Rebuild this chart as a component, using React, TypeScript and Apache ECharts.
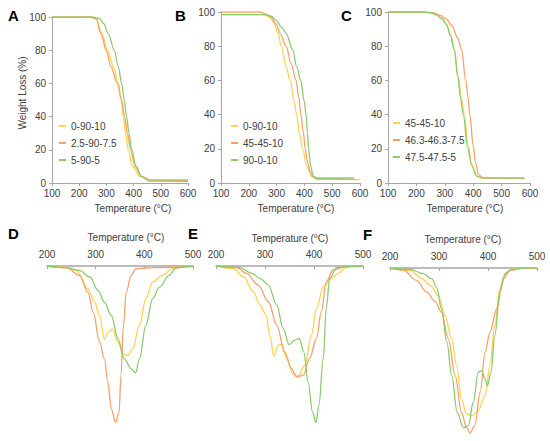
import React, { useEffect, useRef } from "react";
import * as echarts from "echarts";

// ---------- data ----------
const namesA = ["0-90-10", "2.5-90-7.5", "5-90-5"];
const namesB = ["0-90-10", "45-45-10", "90-0-10"];
const namesC = ["45-45-10", "46.3-46.3-7.5", "47.5-47.5-5"];

const tgaA0: number[][] = [[100,100],[240,100],[262,99],[283,90],[304,80],[326,70],[344,60],[354,50],[362,40],[371,30],[380,20],[396,10],[423,4],[460,1.6],[600,1.5]];
const tgaA1: number[][] = [[100,100],[240,100],[262,99],[280,90],[299,80],[317,70],[340,60],[356,50],[367,40],[377,30],[389,20],[405,10],[429,4],[460,1.9],[600,1.8]];
const tgaA2: number[][] = [[100,100],[250,100],[275,99],[290,96],[307,90],[329,80],[344,70],[356,60],[366,50],[374,40],[383,30],[393,20],[409,10],[429,4],[460,1.1],[600,1]];

const tgaB0: number[][] = [[100,98.5],[250,98.5],[270,97.5],[290,94],[305,87.5],[317,80],[334,68],[349,60],[363,48],[372,40],[382,29],[394,19.5],[409,9.6],[427,3.7],[445,2.3],[600,2]];
const tgaB1: number[][] = [[100,100],[240,100],[262,98.8],[280,97],[298,93],[313,87.5],[334,80],[352,70],[370,60],[380,50],[387,40],[396,30],[403,20],[410,13],[420,7],[430,4],[445,3],[580,3]];
const tgaB2: number[][] = [[100,98.5],[260,98.5],[280,97.6],[300,95],[318,91],[334,87.7],[358,77.8],[372,68],[387,60],[399,48],[406,40],[411,29],[415,20],[423,9.6],[432,3.7],[445,2.5],[580,2.3]];

const tgaC0: number[][] = [[100,100],[220,100],[250,99.5],[270,98.5],[290,96.5],[306,93],[320,87],[333,79],[348,62],[358,50],[369,40],[382,22],[395,11],[412,4],[430,3],[580,2.8]];
const tgaC1: number[][] = [[100,100],[230,100],[260,99.5],[285,98],[305,96],[325,92],[345,85],[359,78],[374,60],[382,50],[388,40],[400,22],[408,12],[418,5],[435,3],[580,2.6]];
const tgaC2: number[][] = [[100,100],[220,100],[250,99.5],[270,98.3],[290,96],[306,92.5],[320,86],[333,78],[346,62],[355,50],[365,40],[380,21],[395,10],[412,4],[430,3],[580,2.8]];

const dtgD0: number[][] = [[200,0],[230,-0.6],[260,-2.6],[284,-13.6],[298,-21.6],[308,-29.6],[318,-43.6],[325,-39.6],[335,-38],[346,-45.6],[356,-52.6],[366,-53.6],[376,-49.6],[390,-35.6],[403,-19.6],[417,-9.6],[437,-5.6],[458,-1.6],[485,-0.4],[500,0]];
const dtgD1: number[][] = [[200,0],[240,-1],[267,-5.6],[284,-15.6],[295,-27.6],[308,-45.6],[318,-55.6],[325,-69.6],[332,-85.6],[341,-93.6],[348,-87.6],[352,-65.6],[357,-35.6],[363,-15.6],[373,-5.6],[383,-1.6],[403,-1.2],[444,-0.8],[492,-0.4],[500,0]];
const dtgD2: number[][] = [[200,0],[240,-1],[267,-2.6],[288,-6.6],[305,-14.6],[318,-21.6],[332,-29.6],[346,-43.6],[359,-55.6],[373,-61.6],[382,-64],[390,-55.6],[403,-35.6],[417,-19.6],[431,-12.6],[451,-5.6],[465,-1.2],[485,-0.4],[500,0]];

const dtgE0: number[][] = [[200,0],[235,-1.4],[256,-6.4],[276,-15.4],[290,-23.4],[302,-29.4],[310,-41.4],[318,-54],[327,-47.4],[334,-47],[344,-55.4],[357,-64.4],[368,-65.8],[381,-59.4],[395,-41.4],[405,-25.4],[419,-12.4],[436,-7.4],[449,-4.4],[466,-0.8],[480,-0.2],[500,0]];
const dtgE1: number[][] = [[200,0],[242,-0.8],[262,-4.4],[286,-11.4],[307,-21.4],[324,-35.4],[340,-51.4],[354,-61.4],[364,-66.4],[378,-65.4],[391,-55.4],[405,-43.4],[415,-27.4],[425,-9.4],[439,-2.4],[466,-0.2],[500,0]];
const dtgE2: number[][] = [[200,0],[249,-1],[273,-4.4],[290,-7.4],[307,-11.4],[324,-23.4],[337,-37.4],[349,-47],[361,-44.4],[370,-43.4],[379,-51.4],[388,-69.4],[397,-87.4],[404,-93.8],[410,-83.4],[419,-55.4],[425,-25.4],[432,-7.4],[446,-1],[480,-0.2],[500,0]];

const dtgF0: number[][] = [[200,0],[241,-1.4],[265,-6.4],[282,-10.4],[299,-16.4],[312,-28.4],[326,-42.4],[336,-58.4],[346,-78.4],[356,-87.4],[367,-88.4],[380,-85.4],[394,-76.4],[404,-58.4],[414,-34.4],[424,-12.4],[438,-2.4],[458,-0.2],[500,0]];
const dtgF1: number[][] = [[200,0],[227,-1.2],[254,-7.4],[275,-14.4],[292,-20],[305,-26.4],[319,-42.4],[333,-64.4],[346,-86.4],[356,-95.4],[363,-98.8],[373,-94.4],[384,-74.4],[394,-50.4],[404,-38.4],[418,-24.4],[431,-6.4],[445,-1.4],[472,0],[500,0]];
const dtgF2: number[][] = [[200,0],[241,-0.8],[268,-3.4],[285,-6.4],[295,-11.4],[305,-24.4],[316,-44.4],[326,-64.4],[337,-86.4],[350,-95.8],[360,-94.4],[370,-80.4],[380,-62.4],[387,-61.4],[394,-66.4],[399,-70.4],[406,-62.4],[414,-40.4],[424,-14.4],[435,-3.4],[448,-0.8],[479,0],[500,0]];

const topTicks = { min: 100, max: 600, interval: 100 };
const yTicks = { min: 0, max: 100, interval: 20 };
const botTicks = { min: 200, max: 500, interval: 100 };

const YEL = "#FFD24D";
const ORA = "#F8A068";
const GRN = "#8BCB6C";
const COLORS = [YEL, ORA, GRN];
const COLORS_C = [YEL, ORA, GRN];

const FONT = "'Liberation Sans', Arial, sans-serif";
const AXIS_GRAY = "#A6A6A6";
const LABEL = "#404040";

export default function App() {
  const ref = useRef<HTMLDivElement>(null);
  useEffect(() => {
    if (!ref.current) return;
    const chart = echarts.init(ref.current, undefined, { renderer: "svg" });

    const grids = [
      { left: 52, top: 17, width: 136, height: 166 },
      { left: 221, top: 12, width: 139, height: 171 },
      { left: 388, top: 12, width: 142, height: 171 },
      { left: 47, top: 266, width: 146, height: 167 },
      { left: 216, top: 266, width: 147, height: 167 },
      { left: 390, top: 268, width: 147, height: 167 },
    ];

    const topX = (i: number) => ({
      type: "value", gridIndex: i, ...topTicks,
      axisLine: { show: true, lineStyle: { color: AXIS_GRAY, width: 1 } },
      axisTick: { show: true, length: 3, lineStyle: { color: AXIS_GRAY } },
      splitLine: { show: false },
      axisLabel: { fontSize: 10, color: LABEL, fontFamily: FONT, margin: 5 },
    });
    const topY = (i: number) => ({
      type: "value", gridIndex: i, ...yTicks,
      axisLine: { show: true, lineStyle: { color: AXIS_GRAY, width: 1 } },
      axisTick: { show: true, length: 3, lineStyle: { color: AXIS_GRAY } },
      splitLine: { show: false },
      axisLabel: { fontSize: 10, color: LABEL, fontFamily: FONT, margin: 6 },
    });
    const botX = (i: number) => ({
      type: "value", gridIndex: i, position: "top", ...botTicks,
      axisLine: { show: true, onZero: false, lineStyle: { color: AXIS_GRAY, width: 1.5 } },
      axisTick: { show: true, inside: true, length: 3, lineStyle: { color: AXIS_GRAY } },
      splitLine: { show: false },
      axisLabel: { fontSize: 10, color: LABEL, fontFamily: FONT, margin: 7 },
    });
    const botY = (i: number) => ({
      type: "value", gridIndex: i, min: -100, max: 0, show: false,
      splitLine: { show: false },
    });

    const mk = (name: string, data: number[][], color: string, idx: number) => ({
      type: "line", name, data, xAxisIndex: idx, yAxisIndex: idx,
      showSymbol: false, symbol: "none", smooth: 0.35, smoothMonotone: "x",
      lineStyle: { color, width: 1.3 }, itemStyle: { color }, z: 3,
    });

    const series = [
      mk(namesA[0], tgaA0, COLORS[0], 0),
      mk(namesA[1], tgaA1, COLORS[1], 0),
      mk(namesA[2], tgaA2, COLORS[2], 0),
      mk(namesB[0], tgaB0, COLORS[0], 1),
      mk(namesB[1], tgaB1, COLORS[1], 1),
      mk(namesB[2], tgaB2, COLORS[2], 1),
      mk(namesC[0], tgaC0, COLORS_C[0], 2),
      mk(namesC[1], tgaC1, COLORS_C[1], 2),
      mk(namesC[2], tgaC2, COLORS_C[2], 2),
      mk("D " + namesA[0], dtgD0, COLORS[0], 3),
      mk("D " + namesA[1], dtgD1, COLORS[1], 3),
      mk("D " + namesA[2], dtgD2, COLORS[2], 3),
      mk("E " + namesB[0], dtgE0, COLORS[0], 4),
      mk("E " + namesB[1], dtgE1, COLORS[1], 4),
      mk("E " + namesB[2], dtgE2, COLORS[2], 4),
      mk("F " + namesC[0], dtgF0, COLORS_C[0], 5),
      mk("F " + namesC[1], dtgF1, COLORS_C[1], 5),
      mk("F " + namesC[2], dtgF2, COLORS_C[2], 5),
    ];

    const legend = (names: string[], cols: string[], left: number, top: number) => ({
      orient: "vertical", left, top, padding: 0, itemGap: 5,
      itemWidth: 7, itemHeight: 2, icon: "rect", selectedMode: false,
      textStyle: { fontSize: 10, color: LABEL, fontFamily: FONT, lineHeight: 12 },
      data: names.map((n, k) => ({ name: n, itemStyle: { color: cols[k] } })),
    });

    const txt = (text: string, x: number, y: number, extra: any = {}) => ({
      type: "text", x, y, silent: true,
      style: { text, fontSize: 10, fontFamily: FONT, fill: LABEL, textAlign: "center", textVerticalAlign: "middle", ...extra },
    });
    const panel = (text: string, x: number, y: number) => ({
      type: "text", x, y, silent: true,
      style: { text, fontSize: 15, fontWeight: "bold", fontFamily: FONT, fill: "#000", textAlign: "left", textVerticalAlign: "top" },
    });

    const option: any = {
      animation: false,
      backgroundColor: "#ffffff",
      grid: grids,
      xAxis: [topX(0), topX(1), topX(2), botX(3), botX(4), botX(5)],
      yAxis: [topY(0), topY(1), topY(2), botY(3), botY(4), botY(5)],
      legend: [
        legend(namesA, COLORS, 59, 120),
        legend(namesB, COLORS, 231, 120),
        legend(namesC, COLORS_C, 393, 117),
      ],
      series,
      graphic: [
        panel("A", 8, 8),
        panel("B", 175, 8),
        panel("C", 341, 8),
        panel("D", 8, 226),
        panel("E", 188, 226),
        panel("F", 363, 227),
        txt("Temperature (°C)", 133, 208),
        txt("Temperature (°C)", 296, 208),
        txt("Temperature (°C)", 465, 208),
        txt("Temperature (°C)", 126, 237),
        txt("Temperature (°C)", 290, 238),
        txt("Temperature (°C)", 463, 239),
        { ...txt("Weight Loss (%)", 22, 93), rotation: Math.PI / 2 },
      ],
    };
    chart.setOption(option);
    return () => chart.dispose();
  }, []);
  return (
    <div style={{ position: "absolute", left: 0, top: 0, width: 550, height: 441, background: "#fff" }}>
      <div ref={ref} style={{ width: 550, height: 441 }} />
    </div>
  );
}
